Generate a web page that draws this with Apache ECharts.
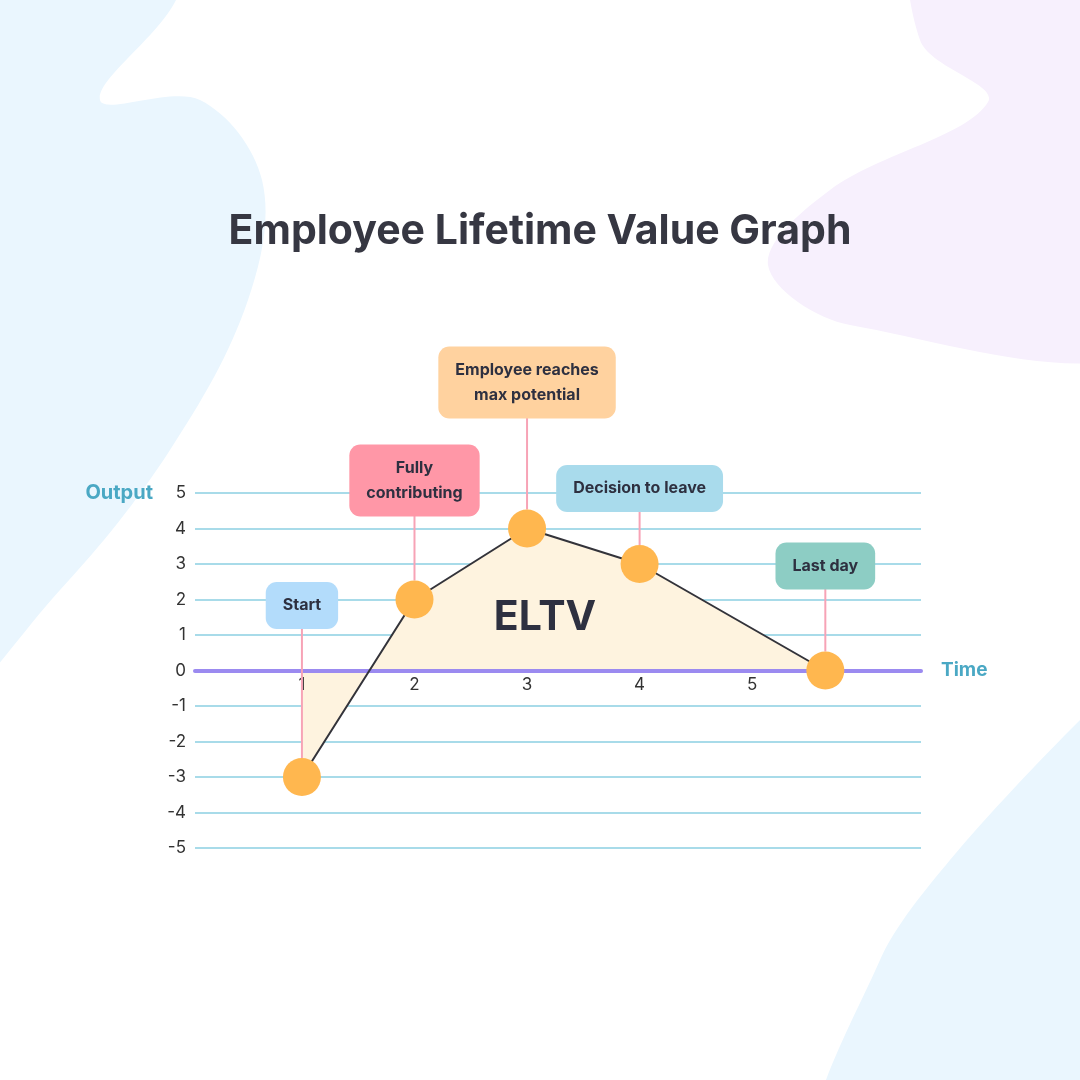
<!DOCTYPE html>
<html><head><meta charset="utf-8">
<script src="https://cdn.jsdelivr.net/npm/echarts@6/dist/echarts.min.js"></script>
<style>html,body{margin:0;padding:0;background:#fff}#c{width:1080px;height:1080px}</style>
</head><body><div id="c"></div>
<script>
// ---- data ----
const times = [1, 2, 3, 4, 5.65];
const outputs = [-3, 2, 4, 3, 0];
const milestones = ['Start', 'Fully\ncontributing', 'Employee reaches\nmax potential', 'Decision to leave', 'Last day'];
const xTickLabels = [1, 2, 3, 4, 5];

// ---- styles ----
const boxColors = ['#b3dcfb', '#ff97a7', '#ffd29f', '#a9dbec', '#8dcdc4'];
const boxOffsets = [149, 84, 111, 53, 82];
const FONT = 'Inter, "Noto Sans", sans-serif';
const DARK = '#2e3040';

const chart = echarts.init(document.getElementById('c'));
const points = times.map((t, i) => [t, outputs[i]]);

chart.setOption({
  backgroundColor: '#ffffff',
  animation: false,
  textStyle: { fontFamily: FONT },
  graphic: [
    { type: 'polygon', z: -10, silent: true, shape: { smooth: 0.35, points: [[-80, -80], [190, -80], [176, 0], [100, 100], [200, 100], [262, 180], [248, 300], [170, 450], [60, 590], [-80, 720]] }, style: { fill: '#eaf6fe' } },
    { type: 'polygon', z: -10, silent: true, shape: { smooth: 0.35, points: [[925, -80], [920, 40], [988, 102], [830, 190], [768, 265], [850, 325], [1160, 335], [1160, -80]] }, style: { fill: '#f7f0fd' } },
    { type: 'polygon', z: -10, silent: true, shape: { smooth: 0.3, points: [[1160, 650], [1080, 720], [950, 860], [880, 960], [820, 1160], [1160, 1160]] }, style: { fill: '#eaf6fe' } },
    { type: 'text', z: 10, left: 'center', top: 211, style: { text: 'Employee Lifetime Value Graph', font: 'bold 41px ' + FONT, fill: '#363742' } },
    { type: 'text', z: 10, x: 545, y: 618, style: { text: 'ELTV', font: 'bold 41px ' + FONT, fill: DARK, align: 'center', verticalAlign: 'middle' } }
  ],
  grid: { left: 195, right: 159, top: 493, height: 355 },
  xAxis: {
    type: 'value', min: 0.05, max: 6.5, z: 3,
    position: 'bottom', offset: -177.5,
    name: 'Time', nameLocation: 'end', nameGap: 20,
    nameTextStyle: { color: '#4aa8c4', fontSize: 19, fontWeight: 'bold', verticalAlign: 'middle', padding: [0, 0, 6, 0] },
    axisLine: { onZero: false, lineStyle: { color: '#9b8af0', width: 4 } },
    axisTick: { show: false },
    splitLine: { show: false },
    axisLabel: { customValues: xTickLabels, color: '#333', fontSize: 17, margin: 6 }
  },
  yAxis: {
    type: 'value', min: -5, max: 5, interval: 1,
    name: 'Output', nameLocation: 'end', nameGap: 0,
    nameTextStyle: { color: '#4aa8c4', fontSize: 20, fontWeight: 'bold', align: 'right', verticalAlign: 'middle', padding: [0, 42, 0, 0] },
    axisLine: { show: false }, axisTick: { show: false },
    axisLabel: { color: '#333', fontSize: 17, margin: 9 },
    splitLine: { lineStyle: { color: '#a8dbe9', width: 2 } }
  },
  series: [
    {
      // ELTV area
      type: 'line', data: points, z: 1, silent: true,
      lineStyle: { width: 0 }, symbol: 'none',
      areaStyle: { color: '#fef3df', opacity: 1 }
    },
    {
      type: 'line', data: points, z: 6,
      lineStyle: { color: '#33333a', width: 2 },
      symbol: 'circle', symbolSize: 38,
      itemStyle: { color: '#ffb74f' }
    },
    {
      type: 'custom', z: 5, data: points,
      renderItem: function (params, api) {
        const i = params.dataIndex;
        const p = api.coord([api.value(0), api.value(1)]);
        const top = p[1] - boxOffsets[i];
        return {
          type: 'group',
          children: [
            { type: 'line', shape: { x1: p[0], y1: top, x2: p[0], y2: p[1] - 19 }, style: { stroke: '#f7a3b6', lineWidth: 2 } },
            { type: 'text', x: p[0], y: top + 1, style: {
                text: milestones[i], font: 'bold 16px ' + FONT, fill: DARK,
                align: 'center', verticalAlign: 'bottom', lineHeight: 25,
                backgroundColor: boxColors[i], borderRadius: 11, padding: [11, 17]
              } }
          ]
        };
      }
    }
  ]
});
</script></body></html>
